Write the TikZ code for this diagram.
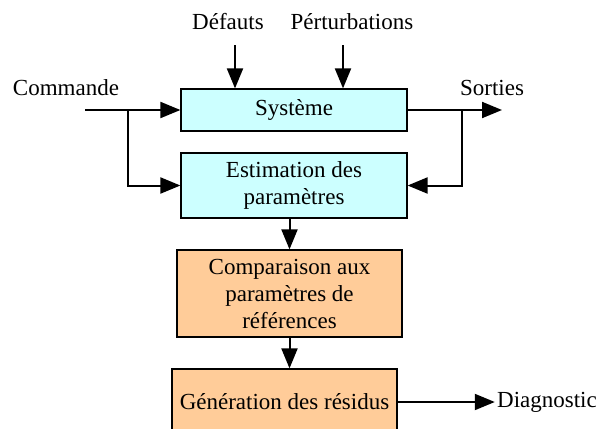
\documentclass[tikz,border=0pt]{standalone}
\usepackage{fontspec}
\setmainfont{Liberation Serif}
\usetikzlibrary{arrows.meta}

\begin{document}
\begin{tikzpicture}[x=0.5pt, y=-0.5pt,
    every node/.style={font=\fontsize{11.5}{13.5}\selectfont},
    bloc/.style={draw, line width=0.6pt, align=center, inner sep=1pt},
    bleu/.style={bloc, fill={rgb,255:red,204;green,255;blue,255}},
    orange/.style={bloc, fill={rgb,255:red,255;green,204;blue,153}},
    fleche/.style={line width=1pt, -{Triangle[length=10pt, width=8pt]}},
    trait/.style={line width=1pt}]
    \useasboundingbox (0,0) rectangle (599,428);
    % blocs
    \node[bleu, minimum width=113pt, minimum height=21pt] (sys) at (294,110) {Système};
    \node[bleu, minimum width=113pt, minimum height=32.5pt] (est) at (294,185.5) {Estimation des\\paramètres};
    \node[orange, minimum width=112.5pt, minimum height=43.5pt] (comp) at (289.5,293.5) {Comparaison aux\\paramètres de\\références};
    \node[orange, minimum width=112.5pt, minimum height=33pt] (gen) at (284.5,402) {Génération des résidus};

    % textes
    \node (cmd) at (66,88) {Commande};
    \node (sort) at (492,88) {Sorties};
    \node (def) at (228,22) {Défauts};
    \node (pert) at (352,22) {Pérturbations};
    \node[inner sep=1pt] (diag) at (547,402) {Diagnostic};

    % points
    \coordinate (in) at (85,110);
    \coordinate (b1) at (128,110);
    \coordinate (out) at (502,110);
    \coordinate (b2) at (462,110);
    \coordinate (d1) at (235,45);
    \coordinate (p1) at (343,45);

    % liaisons
    \draw[fleche] (in) -- (sys.west);
    \draw[fleche] (b1) |- (est.west);
    \draw[fleche] (sys.east) -- (out);
    \draw[fleche] (b2) |- (est.east);
    \draw[fleche] (d1) -- (d1 |- sys.north);
    \draw[fleche] (p1) -- (p1 |- sys.north);
    \draw[fleche] (comp.north |- est.south) -- (comp.north);
    \draw[fleche] (comp.south) -- (comp.south |- gen.north);
    \draw[fleche] (gen.east) -- (diag.west);
\end{tikzpicture}
\end{document}
